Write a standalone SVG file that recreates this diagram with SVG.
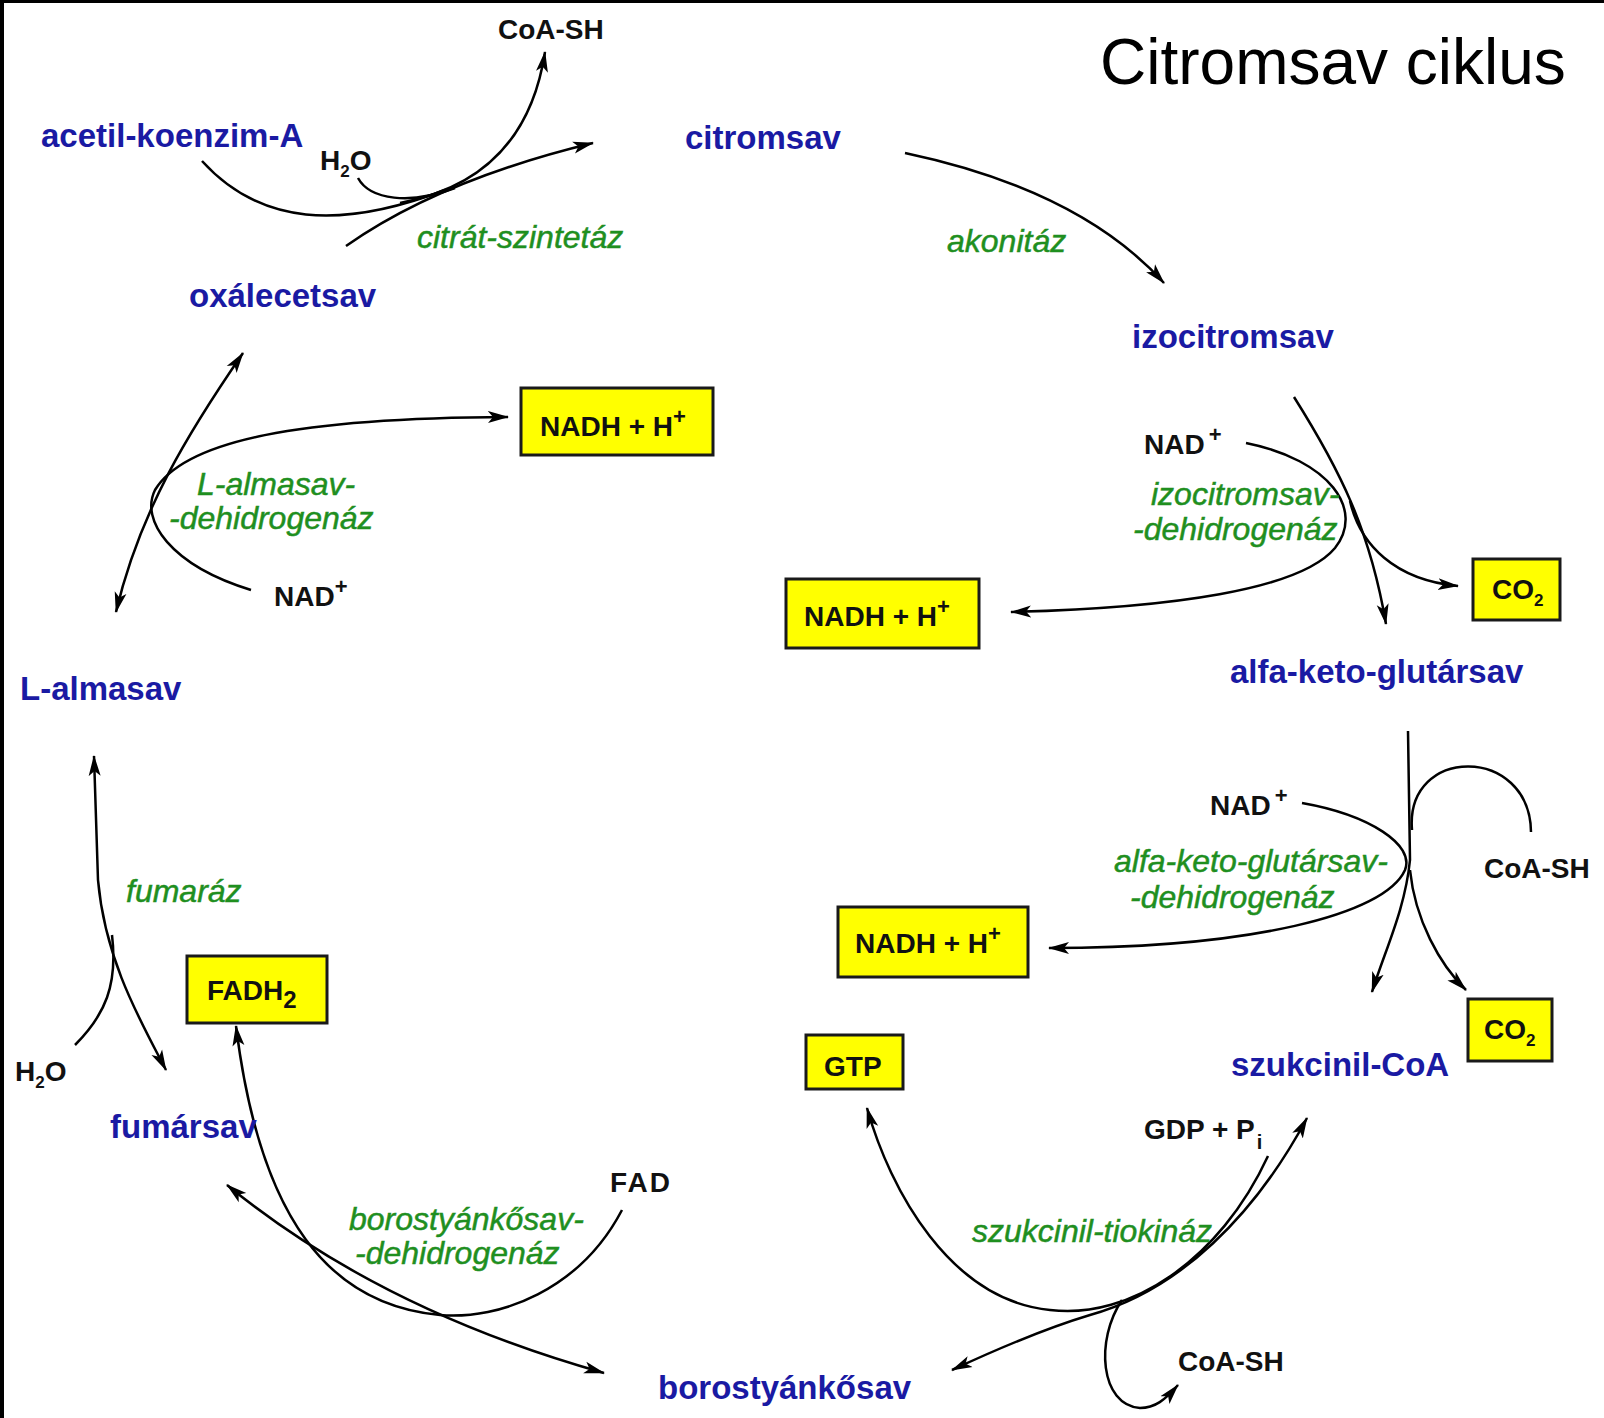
<svg xmlns="http://www.w3.org/2000/svg" width="1604" height="1418" viewBox="0 0 1604 1418">
<defs>
<marker id="ah" markerUnits="userSpaceOnUse" markerWidth="22" markerHeight="14" refX="20" refY="7" orient="auto-start-reverse">
<path d="M0,1 L21,7 L0,13 L5,7 z" fill="#000"/>
</marker>
</defs>
<style>
.lbl{font-family:"Liberation Sans",Arial,sans-serif;font-weight:bold;font-size:33px;fill:#1a1aa3}
.enz{font-family:"Liberation Sans",Arial,sans-serif;font-style:italic;font-size:32px;fill:#1f8f1f;stroke:#1f8f1f;stroke-width:0.5}
.chem{font-family:"Liberation Sans",Arial,sans-serif;font-weight:bold;font-size:28px;fill:#111}
.box{fill:#ffff00;stroke:#1a1a1a;stroke-width:3}
.ln{fill:none;stroke:#000;stroke-width:2.5}
.a{marker-end:url(#ah)}
.aa{marker-start:url(#ah);marker-end:url(#ah)}
</style>
<rect x="0" y="0" width="1604" height="1418" fill="#fff"/>
<rect x="0" y="0" width="4" height="1418" fill="#000"/>
<rect x="0" y="0" width="1604" height="3" fill="#000"/>

<text x="1100" y="84" font-family="Liberation Sans,Arial,sans-serif" font-size="64" fill="#000">Citromsav ciklus</text>

<g id="connectors">
<!-- citrát-szintetáz -->
<path class="ln a" d="M346,246 Q440,180 593,143"/>
<path class="ln" d="M202,161 C260,225 340,230 445,190"/>
<path class="ln" d="M358,178 C370,200 410,205 455,188"/>
<path class="ln a" d="M400,203 C470,190 530,150 545,52"/>
<!-- akonitáz -->
<path class="ln a" d="M905,153 Q1080,190 1164,283"/>
<!-- izocitromsav-dehidrogenáz -->
<path class="ln a" d="M1294,397 C1340,470 1370,530 1386,624"/>
<path class="ln a" d="M1246,443 C1330,460 1365,510 1335,548 C1300,590 1170,608 1011,612"/>
<path class="ln a" d="M1350,501 C1360,545 1395,580 1458,586"/>
<!-- alfa-keto-glutársav-dehidrogenáz -->
<path class="ln a" d="M1408,731 L1410,860 C1405,910 1385,950 1372,992"/>
<path class="ln a" d="M1410,870 C1415,920 1440,965 1466,990"/>
<path class="ln" d="M1412,830 C1405,745 1530,745 1531,832"/>
<path class="ln a" d="M1302,803 C1370,815 1415,845 1405,870 C1385,915 1250,948 1049,948"/>
<!-- szukcinil-tiokináz -->
<path class="ln aa" d="M1307,1118 C1255,1215 1180,1290 1090,1315 C1040,1330 995,1350 952,1370"/>
<path class="ln a" d="M1268,1156 C1220,1260 1130,1320 1050,1310 C950,1300 890,1190 867,1108"/>
<path class="ln a" d="M1122,1300 C1095,1340 1100,1405 1140,1408 C1155,1408 1165,1400 1178,1385"/>
<!-- borostyánkősav-dehidrogenáz -->
<path class="ln aa" d="M227,1185 Q380,1310 604,1373"/>
<path class="ln a" d="M622,1210 C580,1290 500,1320 440,1315 C330,1305 260,1220 236,1026"/>
<!-- fumaráz -->
<path class="ln aa" d="M94,756 L98,880 C105,960 140,1020 166,1070"/>
<path class="ln" d="M75,1045 C105,1015 118,985 112,935"/>
<!-- L-almasav-dehidrogenáz -->
<path class="ln aa" d="M243,353 C190,430 140,510 116,612"/>
<path class="ln a" d="M251,590 C170,565 140,520 155,490 C185,440 300,418 508,417"/>
</g>

<g id="n-acetil"><text class="lbl" x="41" y="147">acetil-koenzim-A</text></g>
<g id="n-citromsav"><text class="lbl" x="685" y="149">citromsav</text></g>
<g id="n-oxalecetsav"><text class="lbl" x="189" y="307">oxálecetsav</text></g>
<g id="n-izocitromsav"><text class="lbl" x="1132" y="348">izocitromsav</text></g>
<g id="n-akg"><text class="lbl" x="1230" y="683">alfa-keto-glutársav</text></g>
<g id="n-lalmasav"><text class="lbl" x="20" y="700">L-almasav</text></g>
<g id="n-szukcinilcoa"><text class="lbl" x="1231" y="1076">szukcinil-CoA</text></g>
<g id="n-fumarsav"><text class="lbl" x="110" y="1138">fumársav</text></g>
<g id="n-borostyankosav"><text class="lbl" x="658" y="1399">borostyánkősav</text></g>

<g id="e-citratszintetaz"><text class="enz" x="417" y="248">citrát-szintetáz</text></g>
<g id="e-akonitaz"><text class="enz" x="947" y="252">akonitáz</text></g>
<g id="e-lalmasavdh"><text class="enz" x="197" y="495">L-almasav-</text><text class="enz" x="169" y="529">-dehidrogenáz</text></g>
<g id="e-izocitromsavdh"><text class="enz" x="1151" y="505">izocitromsav-</text><text class="enz" x="1133" y="540">-dehidrogenáz</text></g>
<g id="e-akgdh"><text class="enz" x="1114" y="872" font-size="31">alfa-keto-glutársav-</text><text class="enz" x="1130" y="908" font-size="31">-dehidrogenáz</text></g>
<g id="e-fumaraz"><text class="enz" x="126" y="902">fumaráz</text></g>
<g id="e-borostyankosavdh"><text class="enz" x="349" y="1230">borostyánkősav-</text><text class="enz" x="355" y="1264">-dehidrogenáz</text></g>
<g id="e-szukciniltiokinaz"><text class="enz" x="972" y="1242">szukcinil-tiokináz</text></g>

<g id="c-coash1"><text class="chem" x="498" y="39">CoA-SH</text></g>
<g id="c-h2o1"><text class="chem" x="320" y="170" font-size="26">H<tspan font-size="17" dy="7">2</tspan><tspan dy="-7">O</tspan></text></g>
<g id="c-nadh1"><rect class="box" x="521" y="388" width="192" height="67"/><text class="chem" x="540" y="436">NADH + H<tspan font-size="22" dy="-12">+</tspan></text></g>
<g id="c-nad1"><text class="chem" x="274" y="606">NAD<tspan font-size="22" dy="-12">+</tspan></text></g>
<g id="c-nad2"><text class="chem" x="1144" y="454">NAD<tspan font-size="22" dy="-12" dx="4">+</tspan></text></g>
<g id="c-co2a"><rect class="box" x="1473" y="559" width="87" height="61"/><text class="chem" x="1492" y="599" font-size="26">CO<tspan font-size="17" dy="7">2</tspan></text></g>
<g id="c-nadh2"><rect class="box" x="786" y="579" width="193" height="69"/><text class="chem" x="804" y="626">NADH + H<tspan font-size="22" dy="-12">+</tspan></text></g>
<g id="c-nad3"><text class="chem" x="1210" y="815">NAD<tspan font-size="22" dy="-12" dx="4">+</tspan></text></g>
<g id="c-coash2"><text class="chem" x="1484" y="878">CoA-SH</text></g>
<g id="c-nadh3"><rect class="box" x="838" y="907" width="190" height="70"/><text class="chem" x="855" y="953">NADH + H<tspan font-size="22" dy="-12">+</tspan></text></g>
<g id="c-fadh2"><rect class="box" x="187" y="956" width="140" height="67"/><text class="chem" x="207" y="1000">FADH<tspan font-size="24" dy="8">2</tspan></text></g>
<g id="c-co2b"><rect class="box" x="1468" y="999" width="84" height="62"/><text class="chem" x="1484" y="1039" font-size="26">CO<tspan font-size="17" dy="7">2</tspan></text></g>
<g id="c-gtp"><rect class="box" x="806" y="1035" width="97" height="54"/><text class="chem" x="824" y="1076">GTP</text></g>
<g id="c-h2o2"><text class="chem" x="15" y="1081" font-size="26">H<tspan font-size="17" dy="7">2</tspan><tspan dy="-7">O</tspan></text></g>
<g id="c-gdp"><text class="chem" x="1144" y="1139">GDP + P<tspan font-size="20" dy="10" dx="2">i</tspan></text></g>
<g id="c-fad"><text class="chem" x="610" y="1192" letter-spacing="2">FAD</text></g>
<g id="c-coash3"><text class="chem" x="1178" y="1371">CoA-SH</text></g>
</svg>
